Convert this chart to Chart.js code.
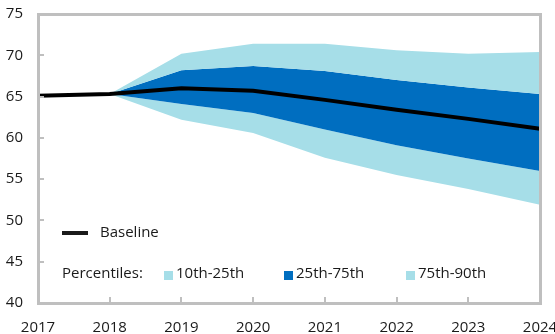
<!DOCTYPE html>
<html>
<head>
<meta charset="utf-8">
<script src="https://cdn.jsdelivr.net/npm/chart.js@4"></script>
<style>
  html, body { margin: 0; padding: 0; background: #fff; }
  #wrap { width: 555px; height: 334px; position: relative; }
</style>
</head>
<body>
<div id="wrap"><canvas id="chart"></canvas></div>
<script>
// --- data ---
const years = ['2017', '2018', '2019', '2020', '2021', '2022', '2023', '2024'];
const baseline = [65.1, 65.3, 66.0, 65.7, 64.6, 63.4, 62.3, 61.1];
const p90 = [null, 65.3, 70.2, 71.4, 71.4, 70.6, 70.2, 70.4];
const p75 = [null, 65.3, 68.2, 68.7, 68.1, 67.0, 66.1, 65.3];
const p25 = [null, 65.3, 64.1, 63.0, 61.0, 59.1, 57.5, 56.0];
const p10 = [null, 65.3, 62.2, 60.6, 57.6, 55.5, 53.8, 51.9];
const yTicks = [40, 45, 50, 55, 60, 65, 70, 75];

const LIGHT = 'rgb(166, 222, 232)';
const DARK = 'rgb(0, 110, 192)';
const AXIS = '#bfbfbf';
const FONT = '"Open Sans", "Noto Sans", sans-serif';

// frame, inward tick marks and the in-chart legend
const framePlugin = {
    id: 'frame',
    afterDraw(chart) {
        const { ctx, chartArea: a, scales } = chart;
        ctx.save();
        ctx.setLineDash([]);
        ctx.globalAlpha = 1;
        ctx.fillStyle = AXIS;
        const L = Math.round(a.left), R = Math.round(a.right);
        const T = Math.round(a.top), B = Math.round(a.bottom);
        ctx.fillRect(L - 1, T - 1, 3, B - T + 3);   // left
        ctx.fillRect(R - 1, T - 1, 3, B - T + 3);   // right
        ctx.fillRect(L - 1, T - 1, R - L + 3, 3);   // top
        ctx.fillRect(L - 1, B - 1, R - L + 3, 3);   // bottom
        yTicks.forEach(v => {
            const y = Math.round(scales.y.getPixelForValue(v));
            ctx.fillRect(L, y - 1, 6, 2);
        });
        years.forEach((_, i) => {
            const x = Math.round(scales.x.getPixelForValue(i));
            ctx.fillRect(x - 1, B - 6, 2, 6);
        });

        // legend
        ctx.fillStyle = '#1a1a1a';
        ctx.font = '15px ' + FONT;
        ctx.textBaseline = 'middle';
        ctx.textAlign = 'left';
        ctx.fillRect(62, 231, 26, 4);
        ctx.fillText('Baseline', 100, 233);

        ctx.fillText('Percentiles:', 62, 274);
        const items = [
            { x: 164, color: LIGHT, label: '10th-25th' },
            { x: 284, color: DARK, label: '25th-75th' },
            { x: 406, color: LIGHT, label: '75th-90th' }
        ];
        items.forEach(it => {
            ctx.fillStyle = it.color;
            ctx.fillRect(it.x, 271, 9, 9);
            ctx.fillStyle = '#1a1a1a';
            ctx.fillText(it.label, it.x + 12, 274);
        });
        ctx.restore();
    }
};

const band = (data, fill, color) => ({
    data: data,
    fill: fill,
    backgroundColor: color,
    borderWidth: 0,
    pointRadius: 0,
    tension: 0
});

new Chart(document.getElementById('chart'), {
    type: 'line',
    data: {
        labels: years,
        datasets: [
            { ...band(baseline, false, '#000'), borderColor: '#000', borderWidth: 4, order: 0 },
            { ...band(p90, '+1', LIGHT), order: 1 },
            { ...band(p75, '+1', DARK), order: 2 },
            { ...band(p25, '+1', LIGHT), order: 3 },
            { ...band(p10, false, LIGHT), order: 4 }
        ]
    },
    options: {
        responsive: true,
        maintainAspectRatio: false,
        animation: false,
        layout: { autoPadding: false, padding: { top: 14, right: 15, left: 0, bottom: 0 } },
        plugins: { legend: { display: false }, tooltip: { enabled: false } },
        scales: {
            x: {
                grid: { display: false },
                border: { display: false },
                ticks: { color: '#1a1a1a', font: { family: FONT, size: 15 }, maxRotation: 0, padding: 8 },
                afterFit: s => { s.height = 31; s.paddingLeft = 0; s.paddingRight = 0; }
            },
            y: {
                min: 40,
                max: 75,
                grid: { display: false },
                border: { display: false },
                afterBuildTicks: s => { s.ticks = yTicks.map(v => ({ value: v })); },
                ticks: { color: '#1a1a1a', font: { family: FONT, size: 15 }, padding: 7 },
                afterFit: s => { s.width = 38; s.paddingTop = 0; s.paddingBottom = 0; }
            }
        }
    },
    plugins: [framePlugin]
});
</script>
</body>
</html>
